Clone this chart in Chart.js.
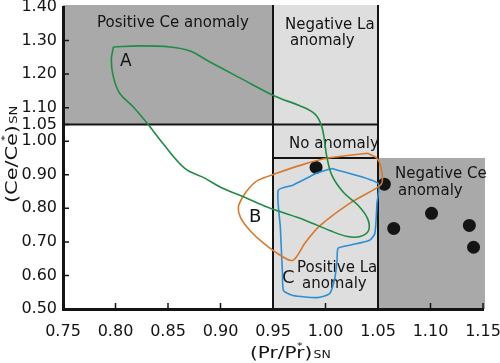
<!DOCTYPE html>
<html>
<head>
<meta charset="utf-8">
<script src="https://cdn.jsdelivr.net/npm/chart.js@4.4.0/dist/chart.umd.min.js"></script>
<style>
  html, body { margin: 0; padding: 0; background: #fff; }
  #wrap { width: 500px; height: 363px; }
</style>
</head>
<body>
<div id="wrap"><canvas id="chart" width="500" height="363"></canvas></div>
<script>
// Ejes
const xTicks = [0.75, 0.80, 0.85, 0.90, 0.95, 1.00, 1.05, 1.10, 1.15];
const yTicks = [0.50, 0.60, 0.70, 0.80, 0.90, 1.00, 1.05, 1.10, 1.20, 1.30, 1.40];

// Límites de las anomalías
const prLimits = [0.95, 1.05];
const ceLimits = [0.95, 1.05];

// Muestras (puntos negros)
const samplesX = [0.991, 1.056, 1.065, 1.101, 1.137, 1.141];
const samplesY = [0.922, 0.872, 0.740, 0.785, 0.749, 0.684];

// Campo A (verde)
const fieldAX = [0.798, 0.823, 0.852, 0.871, 0.890, 0.919, 0.952, 0.976, 0.990, 0.996, 0.999, 1.001,
                 1.006, 1.017, 1.031, 1.040, 1.041, 1.033, 1.021, 1.004, 0.981, 0.945, 0.923, 0.900,
                 0.885, 0.866, 0.845, 0.830, 0.817, 0.804, 0.798, 0.796];
const fieldAY = [1.281, 1.284, 1.281, 1.269, 1.236, 1.188, 1.134, 1.105, 1.081, 1.048, 1.003, 0.958,
                 0.899, 0.848, 0.809, 0.770, 0.734, 0.716, 0.716, 0.734, 0.764, 0.803, 0.833, 0.863,
                 0.890, 0.919, 0.994, 1.054, 1.102, 1.143, 1.191, 1.242];

// Campo B (naranja)
const fieldBX = [1.040, 1.049, 1.053, 1.054, 1.050, 1.023, 0.995, 0.981, 0.969, 0.957, 0.941,
                 0.928, 0.919, 0.917, 0.921, 0.928, 0.936, 0.954, 0.976, 1.001, 1.023];
const fieldBY = [0.964, 0.949, 0.919, 0.878, 0.863, 0.815, 0.749, 0.699, 0.645, 0.660, 0.696,
                 0.734, 0.773, 0.803, 0.833, 0.863, 0.884, 0.905, 0.928, 0.949, 0.958];

// Campo C (azul)
const fieldCX = [1.006, 1.050, 1.049, 1.047, 1.042, 1.023, 1.012, 1.011, 1.009, 1.004, 0.992,
                 0.969, 0.960, 0.959, 0.957, 0.955, 0.969, 0.992];
const fieldCY = [0.919, 0.875, 0.815, 0.725, 0.705, 0.690, 0.681, 0.645, 0.594, 0.546, 0.534,
                 0.540, 0.555, 0.606, 0.743, 0.854, 0.869, 0.905];

const DARK = '#a9a9a9';
const LIGHT = '#dedede';
const INK = '#141414';
const FONT = '"DejaVu Sans", sans-serif';

function loop(xs, ys) {
    const pts = xs.map((v, i) => ({x: v, y: ys[i]}));
    pts.push(pts[0]);
    return pts;
}

// Cuadros de anomalías y textos
const fieldsPlugin = {
    id: 'fields',
    beforeDraw(chart) {
        const {ctx, scales: {x, y}} = chart;
        const X = v => x.getPixelForValue(v), Y = v => y.getPixelForValue(v);
        const [pLo, pHi] = prLimits, [cLo, cHi] = ceLimits;
        ctx.save();
        ctx.fillStyle = DARK;
        ctx.fillRect(X(x.min), Y(y.max) - 2, X(pLo) - X(x.min), Y(cHi) - Y(y.max) + 2);
        ctx.fillRect(X(pHi), Y(cLo), X(x.max) - X(pHi) + 2, Y(y.min) - Y(cLo));
        ctx.fillStyle = LIGHT;
        ctx.fillRect(X(pLo), Y(y.max) - 2, X(pHi) - X(pLo), Y(y.min) - Y(y.max) + 2);
        ctx.strokeStyle = INK;
        ctx.lineWidth = 2;
        ctx.beginPath();
        ctx.moveTo(X(x.min), Y(cHi)); ctx.lineTo(X(pHi), Y(cHi));
        ctx.moveTo(X(pLo), Y(cLo)); ctx.lineTo(X(pHi), Y(cLo));
        ctx.moveTo(X(pLo), Y(y.max) - 2); ctx.lineTo(X(pLo), Y(y.min));
        ctx.moveTo(X(pHi), Y(y.max) - 2); ctx.lineTo(X(pHi), Y(y.min));
        ctx.stroke();
        ctx.restore();
    },
    beforeDatasetsDraw(chart) {
        const {ctx, scales: {x, y}} = chart;
        const X = v => x.getPixelForValue(v), Y = v => y.getPixelForValue(v);
        ctx.save();
        ctx.fillStyle = INK;
        ctx.textBaseline = 'alphabetic';
        ctx.textAlign = 'left';
        ctx.font = '15px ' + FONT;
        const labels = [
            ['Positive Ce anomaly', 0.7824, 1.3394],
            ['Negative La', 0.9614, 1.3343],
            ['anomaly', 0.9662, 1.2866],
            ['No anomaly', 0.9652, 0.9791],
            ['Negative Ce', 1.0662, 0.8896],
            ['anomaly', 1.0690, 0.8388],
            ['Positive La', 0.9729, 0.6090],
            ['anomaly', 0.9776, 0.5612]
        ];
        labels.forEach(([t, vx, vy]) => ctx.fillText(t, X(vx), Y(vy)));
        ctx.font = '17px ' + FONT;
        ctx.fillText('A', X(0.8043), Y(1.2239));
        ctx.font = '18px ' + FONT;
        ctx.fillText('B', X(0.9271), Y(0.7582));
        ctx.fillText('C', X(0.9586), Y(0.5761));
        ctx.restore();
    },
    afterDraw(chart) {
        const {ctx, scales: {x, y}} = chart;
        const X = v => x.getPixelForValue(v), Y = v => y.getPixelForValue(v);
        ctx.save();
        // marcas hacia dentro
        ctx.strokeStyle = INK;
        ctx.lineWidth = 1.5;
        ctx.beginPath();
        yTicks.forEach(v => {
            if (v === y.min || v === y.max) return;
            ctx.moveTo(X(x.min), Y(v)); ctx.lineTo(X(x.min) + 6, Y(v));
        });
        xTicks.forEach(v => {
            if (v === x.min) return;
            ctx.moveTo(X(v), Y(y.min)); ctx.lineTo(X(v), Y(y.min) - 6);
        });
        ctx.stroke();

        // títulos de ejes
        ctx.fillStyle = INK;
        drawTitle(ctx, 250, 358, 0, 1.25, '(Pr/Pr');
        drawTitle(ctx, 17, 203, -Math.PI / 2, 1.3, '(Ce/Ce');
        ctx.restore();
    }
};

function drawTitle(ctx, px, py, rot, stretch, main) {
    ctx.save();
    ctx.translate(px, py);
    ctx.rotate(rot);
    ctx.scale(stretch, 1);
    ctx.textBaseline = 'alphabetic';
    ctx.textAlign = 'left';
    ctx.font = '16px ' + FONT;
    ctx.fillText(main, 0, 0);
    let cx = ctx.measureText(main).width;
    ctx.font = '9px ' + FONT;
    ctx.fillText('*', cx - 6, -9);
    ctx.font = '16px ' + FONT;
    ctx.fillText(')', cx, 0);
    cx += ctx.measureText(')').width + 1;
    ctx.font = '10px ' + FONT;
    ctx.fillText('SN', cx, 0);
    ctx.restore();
}

const chart = new Chart(document.getElementById('chart').getContext('2d'), {
    type: 'scatter',
    data: {
        datasets: [
            {
                label: 'A', data: loop(fieldAX, fieldAY), showLine: true, fill: false,
                borderColor: '#1f8c46', borderWidth: 1.6, pointRadius: 0, tension: 0.35
            },
            {
                label: 'B', data: loop(fieldBX, fieldBY), showLine: true, fill: false,
                borderColor: '#d9782c', borderWidth: 1.6, pointRadius: 0, tension: 0.3
            },
            {
                label: 'C', data: loop(fieldCX, fieldCY), showLine: true, fill: false,
                borderColor: '#2b8fd6', borderWidth: 1.6, pointRadius: 0, tension: 0.2
            },
            {
                label: 'Muestras', data: samplesX.map((v, i) => ({x: v, y: samplesY[i]})),
                pointRadius: 6.5, pointBackgroundColor: INK, pointBorderWidth: 0
            }
        ]
    },
    options: {
        responsive: false,
        animation: false,
        devicePixelRatio: 1,
        layout: {padding: {left: 0, right: 17, top: 7, bottom: 0}},
        plugins: {legend: {display: false}, tooltip: {enabled: false}},
        scales: {
            x: {
                type: 'linear', min: 0.75, max: 1.15,
                grid: {display: false, drawTicks: false},
                border: {display: true, color: INK, width: 3},
                afterBuildTicks: s => { s.ticks = xTicks.map(v => ({value: v})); },
                afterFit: s => { s.height = 54; s.paddingLeft = 0; s.paddingRight = 0; },
                ticks: {
                    autoSkip: false, maxRotation: 0, padding: 13, color: INK,
                    font: {family: FONT, size: 16},
                    callback: v => v.toFixed(2)
                }
            },
            y: {
                type: 'linear', min: 0.50, max: 1.40,
                grid: {display: false, drawTicks: false},
                border: {display: true, color: INK, width: 3},
                afterBuildTicks: s => { s.ticks = yTicks.map(v => ({value: v})); },
                afterFit: s => { s.width = 63; s.paddingTop = 0; s.paddingBottom = 0; },
                ticks: {
                    autoSkip: false, padding: 6, color: INK,
                    font: {family: FONT, size: 16},
                    callback: v => v.toFixed(2)
                }
            }
        }
    },
    plugins: [fieldsPlugin]
});
</script>
</body>
</html>
